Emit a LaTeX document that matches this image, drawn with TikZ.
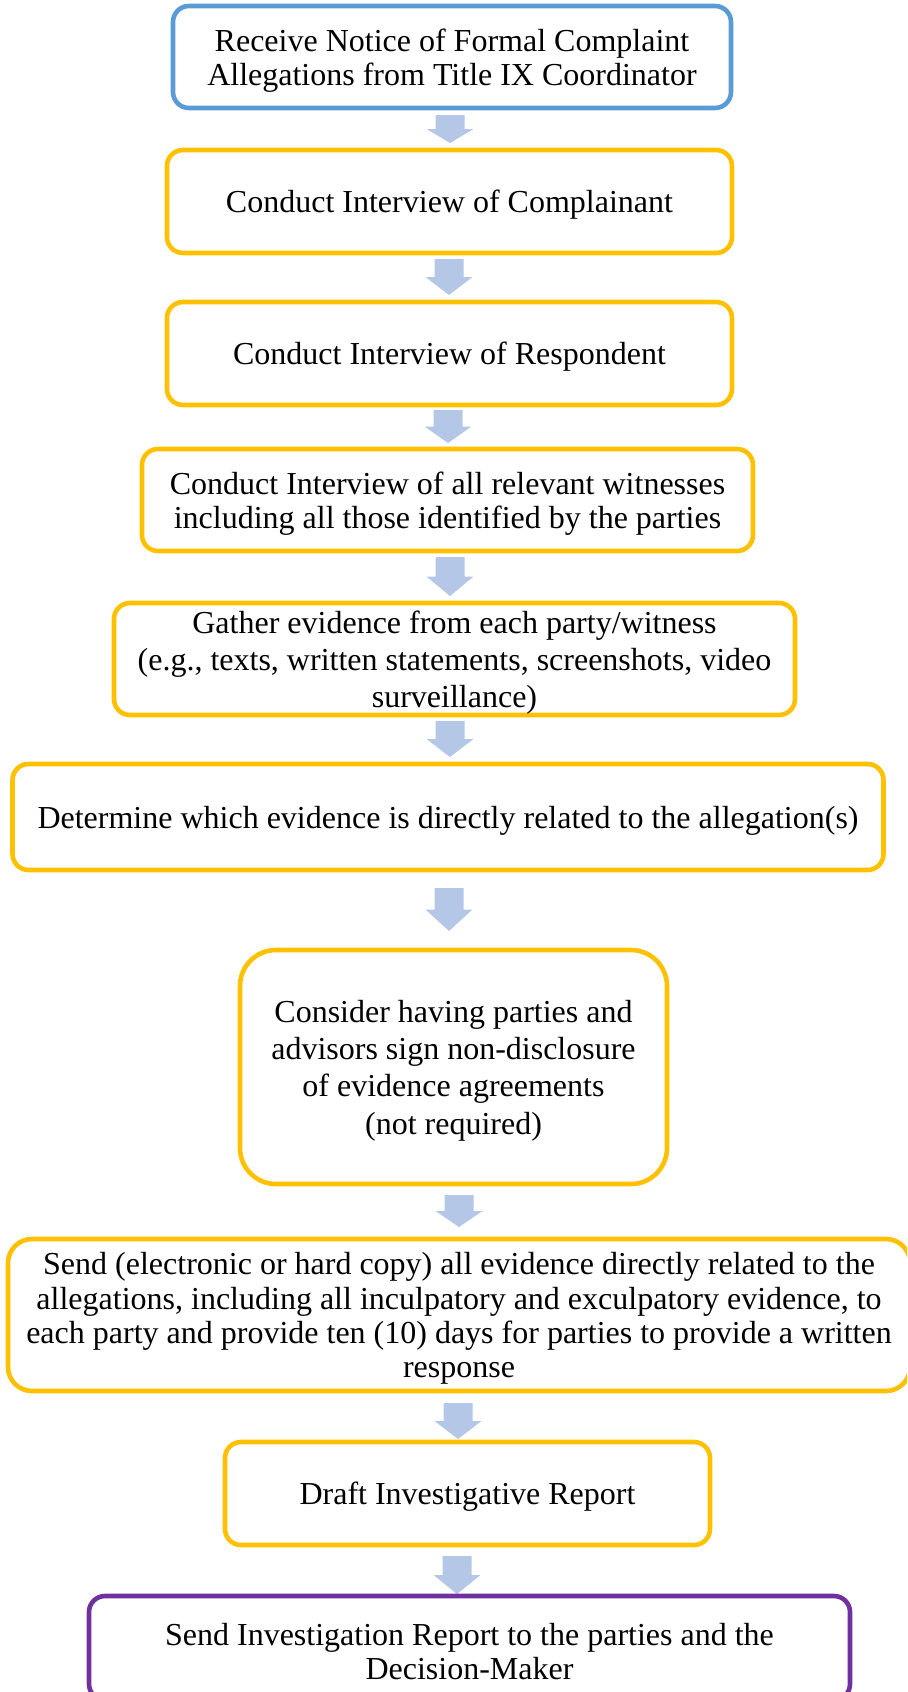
\documentclass[tikz,border=0pt]{standalone}
\usepackage{fontspec}
\setmainfont{Liberation Serif}
\definecolor{bblue}{HTML}{5B9BD5}
\definecolor{bgold}{HTML}{FFC000}
\definecolor{bpurple}{HTML}{7030A0}
\definecolor{arrowblue}{HTML}{B4C7E7}
\newcommand\blockarrow[4]{% x, top, neck, bottom
  \fill[arrowblue] (#1-14.5,#2) -- (#1+14.5,#2) -- (#1+14.5,#3) -- (#1+23.5,#3)
    -- (#1,#4) -- (#1-23.5,#3) -- (#1-14.5,#3) -- cycle;}
\begin{document}
\begin{tikzpicture}[x=0.5pt,y=-0.5pt,
  box/.style={draw, line width=2.3pt, fill=white, rounded corners=#1, inner sep=0pt},
  box/.default=8pt,
  txt/.style={align=center, inner sep=0pt, yshift=-1.8pt, font=\fontsize{16}{17.2}\selectfont},
  talltxt/.style={txt, font=\fontsize{16}{18.6}\selectfont}]
\useasboundingbox (0,0) rectangle (907,1692);
\clip (0,0) rectangle (907,1692);
% arrows
\blockarrow{450}{115}{129}{143}
\blockarrow{449}{259}{277}{295}
\blockarrow{448}{410}{426.5}{443}
\blockarrow{450}{557}{576.5}{596}
\blockarrow{450}{721}{739}{757}
\blockarrow{449}{888}{909.5}{931}
\blockarrow{459}{1195}{1211}{1227}
\blockarrow{458}{1403}{1421}{1439}
\blockarrow{457}{1556}{1575}{1594}
% boxes
\node[box=8pt, draw=bblue, minimum width=279pt, minimum height=51pt] (b1) at (452,57) {};
\node[txt] (t1) at (b1.center) {Receive Notice of Formal Complaint\\Allegations from Title IX Coordinator};
\node[box=8pt, draw=bgold, minimum width=282.5pt, minimum height=51.5pt] (b2) at (449.5,201.5) {};
\node[txt] (t2) at (b2.center) {Conduct Interview of Complainant};
\node[box=8pt, draw=bgold, minimum width=282.5pt, minimum height=51.5pt] (b3) at (449.5,353.5) {};
\node[txt] (t3) at (b3.center) {Conduct Interview of Respondent};
\node[box=8pt, draw=bgold, minimum width=305.5pt, minimum height=51pt] (b4) at (447.5,500) {};
\node[txt] (t4) at (b4.center) {Conduct Interview of all relevant witnesses\\including all those identified by the parties};
\node[box=8pt, draw=bgold, minimum width=340.5pt, minimum height=56pt] (b5) at (454.5,659) {};
\node[talltxt] (t5) at (b5.center) {Gather evidence from each party/witness\\(e.g., texts, written statements, screenshots, video\\surveillance)};
\node[box=8pt, draw=bgold, minimum width=435.5pt, minimum height=53pt] (b6) at (448,817) {};
\node[txt] (t6) at (b6.center) {Determine which evidence is directly related to the allegation(s)};
\node[box=18pt, draw=bgold, minimum width=213.5pt, minimum height=117pt] (b7) at (453.5,1067) {};
\node[talltxt] (t7) at (b7.center) {Consider having parties and\\advisors sign non-disclosure\\of evidence agreements\\(not required)};
\node[box=12pt, draw=bgold, minimum width=451pt, minimum height=76pt] (b8) at (459,1315) {};
\node[txt] (t8) at (b8.center) {Send (electronic or hard copy) all evidence directly related to the\\allegations, including all inculpatory and exculpatory evidence, to\\each party and provide ten (10) days for parties to provide a written\\response};
\node[box=8pt, draw=bgold, minimum width=242.5pt, minimum height=51.5pt] (b9) at (467.5,1493.5) {};
\node[txt] (t9) at (b9.center) {Draft Investigative Report};
\node[box=8pt, draw=bpurple, minimum width=380.5pt, minimum height=52pt] (b10) at (469.5,1648) {};
\node[txt] (t10) at (b10.center) {Send Investigation Report to the parties and the\\Decision-Maker};
\end{tikzpicture}
\end{document}
